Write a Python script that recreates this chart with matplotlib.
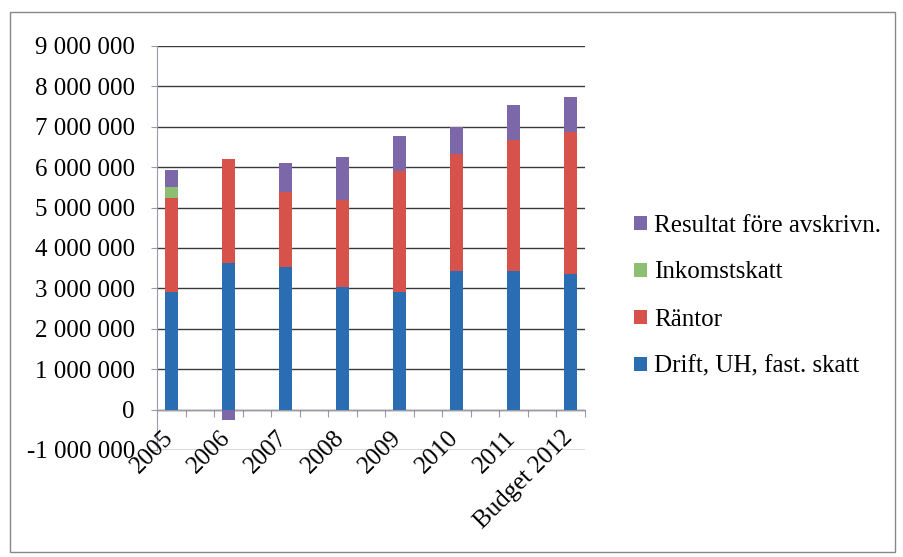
import matplotlib
matplotlib.use("Agg")
import matplotlib.pyplot as plt
import numpy as np
from matplotlib.patches import Rectangle
from matplotlib.ticker import FuncFormatter

categories = ["2005", "2006", "2007", "2008", "2009", "2010", "2011", "Budget 2012"]
drift = [2920000, 3640000, 3530000, 3040000, 2900000, 3420000, 3420000, 3350000]
rantor = [2330000, 2560000, 1860000, 2160000, 3010000, 2910000, 3260000, 3530000]
inkomstskatt = [250000, 0, 0, 0, 0, 0, 0, 0]
resultat = [430000, -250000, 710000, 1050000, 860000, 670000, 850000, 870000]

series = [
    ("Drift, UH, fast. skatt", drift, "#2a6db3"),
    ("Räntor", rantor, "#d6524a"),
    ("Inkomstskatt", inkomstskatt, "#8dbf73"),
    ("Resultat före avskrivn.", resultat, "#7c67a8"),
]

plt.rcParams['font.family'] = ['Liberation Serif', 'DejaVu Serif']
FS = 18

fig = plt.figure(figsize=(9.04, 5.57), dpi=100)
fig.patches.append(Rectangle((10/904, 1-552/557), 885/904, 540/557, transform=fig.transFigure,
                             fill=False, edgecolor="#888888", linewidth=1.0))
ax = fig.add_axes([157/904, 1-450/557, 428/904, 404/557])

x = np.arange(len(categories))
pos_base = np.zeros(len(categories))
neg_base = np.zeros(len(categories))
handles = []
for name, vals, color in series:
    vals = np.array(vals, dtype=float)
    bottoms = np.where(vals >= 0, pos_base, neg_base)
    h = ax.bar(x, vals, width=0.22, bottom=bottoms, color=color, label=name, zorder=3)
    handles.append(h)
    pos_base = pos_base + np.where(vals >= 0, vals, 0)
    neg_base = neg_base + np.where(vals < 0, vals, 0)

ax.set_ylim(-1000000, 9000000)
ax.set_xlim(-0.25, len(categories) - 0.75)
ax.set_yticks(np.arange(-1000000, 9000001, 1000000))
ax.yaxis.set_major_formatter(FuncFormatter(lambda v, p: f"{int(v):,}".replace(",", " ")))
ax.tick_params(axis='y', labelsize=FS, length=4, color="#9a9aaa", pad=12)
ax.grid(axis='y', color="#3a3a3a", linewidth=1.0, zorder=0)
ax.set_axisbelow(True)

for s in ["top", "right"]:
    ax.spines[s].set_visible(False)
ax.spines["left"].set_color("#9a9aaa")
ax.spines["bottom"].set_position(("data", 0))
ax.spines["bottom"].set_color("#9a9aaa")
ticks = np.sort(np.concatenate([x - 0.25, x + 0.25]))
ax.set_xticks(ticks)
ax.set_xticklabels([])
ax.tick_params(axis='x', length=5, color="#9a9aaa", direction='out')

for i, lab in enumerate(categories):
    ax.text(i - 0.03, -620000, lab, rotation=45, ha='right', va='center',
            rotation_mode='anchor', fontsize=FS, clip_on=False)

leg = fig.legend(handles[::-1], [s[0] for s in series][::-1], loc='upper left',
                 bbox_to_anchor=(617/904, 1-197/557), frameon=False, fontsize=FS,
                 handlelength=0.5, handleheight=0.5, handletextpad=0.3, labelspacing=1.0,
                 borderpad=0.2)

fig.savefig("out.png", dpi=100)
